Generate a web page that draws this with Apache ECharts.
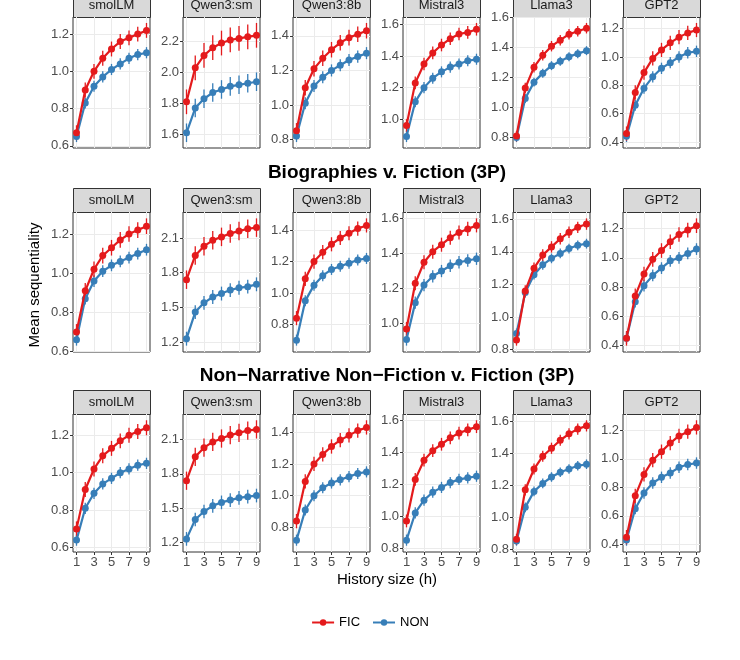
<!DOCTYPE html>
<html>
<head>
<meta charset="utf-8">
<script src="https://cdn.jsdelivr.net/npm/echarts@6/dist/echarts.min.js"></script>
<style>html,body{margin:0;padding:0;background:#fff}#chart{width:740px;height:660px}</style>
</head>
<body>
<div id="chart"></div>
<script>
var models = ['smolLM', 'Qwen3:sm', 'Qwen3:8b', 'Mistral3', 'Llama3', 'GPT2'];
var rowTitles = ['', 'Biographies v. Fiction (3P)', 'Non\u2212Narrative Non\u2212Fiction v. Fiction (3P)'];
var hist = [1, 2, 3, 4, 5, 6, 7, 8, 9];

// FIC / NON means, row by row, model by model
var ficRow1 = [
  [0.67,0.90,1.00,1.07,1.12,1.16,1.18,1.20,1.22],
  [1.81,2.03,2.11,2.16,2.19,2.21,2.22,2.23,2.24],
  [0.85,1.10,1.21,1.27,1.32,1.36,1.39,1.41,1.43],
  [0.96,1.23,1.35,1.42,1.47,1.51,1.54,1.55,1.57],
  [0.81,1.13,1.27,1.35,1.41,1.45,1.49,1.51,1.53],
  [0.46,0.75,0.89,0.99,1.05,1.10,1.14,1.17,1.19]
];
var nonRow1 = [
  [0.65,0.83,0.92,0.97,1.01,1.04,1.07,1.09,1.10],
  [1.61,1.77,1.83,1.87,1.89,1.91,1.92,1.93,1.94],
  [0.82,1.01,1.11,1.16,1.20,1.23,1.26,1.28,1.30],
  [0.89,1.11,1.20,1.26,1.30,1.33,1.35,1.37,1.38],
  [0.80,1.06,1.17,1.23,1.28,1.31,1.34,1.36,1.38],
  [0.44,0.66,0.78,0.86,0.92,0.96,1.00,1.03,1.04]
];
var ficRow2 = [
  [0.70,0.91,1.02,1.09,1.13,1.17,1.20,1.22,1.24],
  [1.74,1.95,2.03,2.08,2.11,2.14,2.16,2.18,2.19],
  [0.84,1.09,1.20,1.26,1.31,1.35,1.38,1.41,1.43],
  [0.97,1.23,1.35,1.41,1.45,1.49,1.52,1.54,1.56],
  [0.86,1.16,1.30,1.38,1.43,1.48,1.52,1.55,1.57],
  [0.45,0.74,0.89,0.99,1.05,1.11,1.16,1.19,1.22]
];
var nonRow2 = [
  [0.66,0.87,0.96,1.01,1.04,1.06,1.08,1.10,1.12],
  [1.23,1.46,1.54,1.59,1.62,1.65,1.67,1.68,1.70],
  [0.70,0.95,1.05,1.11,1.15,1.17,1.19,1.21,1.22],
  [0.91,1.12,1.22,1.27,1.30,1.33,1.35,1.36,1.37],
  [0.90,1.15,1.26,1.32,1.36,1.39,1.42,1.44,1.45],
  [0.45,0.70,0.81,0.88,0.93,0.98,1.00,1.03,1.06]
];
var ficRow3 = [
  [0.70,0.91,1.02,1.09,1.13,1.17,1.20,1.22,1.24],
  [1.74,1.95,2.03,2.08,2.11,2.14,2.16,2.18,2.19],
  [0.84,1.09,1.20,1.26,1.31,1.35,1.38,1.41,1.43],
  [0.97,1.23,1.35,1.41,1.45,1.49,1.52,1.54,1.56],
  [0.86,1.17,1.30,1.38,1.43,1.48,1.52,1.55,1.57],
  [0.45,0.74,0.89,0.99,1.05,1.11,1.16,1.19,1.22]
];
var nonRow3 = [
  [0.64,0.81,0.89,0.94,0.97,1.00,1.02,1.04,1.05],
  [1.23,1.40,1.47,1.52,1.55,1.57,1.59,1.60,1.61],
  [0.72,0.91,1.00,1.05,1.08,1.10,1.12,1.14,1.15],
  [0.85,1.02,1.10,1.15,1.18,1.21,1.23,1.24,1.25],
  [0.85,1.06,1.16,1.21,1.25,1.28,1.30,1.32,1.33],
  [0.43,0.65,0.76,0.83,0.87,0.90,0.94,0.96,0.97]
];
// approximate error bar half-widths per model (FIC, NON)
var errFic = [0.04, 0.08, 0.045, 0.04, 0.035, 0.05];
var errNon = [0.03, 0.06, 0.035, 0.035, 0.03, 0.04];

var yTicks = [
  [[0.6,0.8,1.0,1.2],[1.6,1.8,2.0,2.2],[0.8,1.0,1.2,1.4],[1.0,1.2,1.4,1.6],[0.8,1.0,1.2,1.4,1.6],[0.4,0.6,0.8,1.0,1.2]],
  [[0.6,0.8,1.0,1.2],[1.2,1.5,1.8,2.1],[0.8,1.0,1.2,1.4],[1.0,1.2,1.4,1.6],[0.8,1.0,1.2,1.4,1.6],[0.4,0.6,0.8,1.0,1.2]],
  [[0.6,0.8,1.0,1.2],[1.2,1.5,1.8,2.1],[0.8,1.0,1.2,1.4],[0.8,1.0,1.2,1.4,1.6],[0.8,1.0,1.2,1.4,1.6],[0.4,0.6,0.8,1.0,1.2]]
];
var xTicks = [1, 3, 5, 7, 9];

var ficRows = [ficRow1, ficRow2, ficRow3];
var nonRows = [nonRow1, nonRow2, nonRow3];

var panelLeft = [73, 183, 293, 403, 513, 623];
var panelW = 77;
var rowTop = [17, 212, 414];
var rowH = [131, 140, 138];
var RED = '#E41A1C', BLUE = '#377EB8';

var grids = [], xAxes = [], yAxes = [], series = [], graphics = [];

function errRender(color) {
  return function (params, api) {
    var x = api.value(0);
    var p1 = api.coord([x, api.value(1)]);
    var p2 = api.coord([x, api.value(2)]);
    return { type: 'line', shape: { x1: p1[0], y1: p1[1], x2: p2[0], y2: p2[1] },
      style: { stroke: color, lineWidth: 1.3 } };
  };
}

for (var r = 0; r < 3; r++) {
  for (var m = 0; m < 6; m++) {
    var idx = r * 6 + m;
    var fic = ficRows[r][m], non = nonRows[r][m];
    var lo = Math.min(Math.min.apply(null, fic) - errFic[m], Math.min.apply(null, non) - errNon[m]);
    var hi = Math.max(Math.max.apply(null, fic) + errFic[m], Math.max.apply(null, non) + errNon[m]);
    var pad = (hi - lo) * 0.05;
    grids.push({ left: panelLeft[m], top: rowTop[r], width: panelW, height: rowH[r],
      show: true, borderColor: '#333', borderWidth: 1, backgroundColor: '#fff' });
    xAxes.push({ type: 'value', gridIndex: idx, min: 0.6, max: 9.4,
      axisLine: { show: false },
      axisTick: { show: r === 2, customValues: xTicks, length: 3, lineStyle: { color: '#333' } },
      axisLabel: { show: r === 2, customValues: xTicks, color: '#4D4D4D', fontSize: 13, margin: 4,
        fontFamily: 'Liberation Sans' },
      splitLine: { show: true, lineStyle: { color: '#EBEBEB', width: 1 } } });
    yAxes.push({ type: 'value', gridIndex: idx, min: lo - pad, max: hi + pad,
      axisLine: { show: false },
      axisTick: { show: true, customValues: yTicks[r][m], length: 3, lineStyle: { color: '#333' } },
      axisLabel: { customValues: yTicks[r][m], color: '#4D4D4D', fontSize: 13, margin: 4,
        fontFamily: 'Liberation Sans', formatter: function (v) { return v.toFixed(1); } },
      splitLine: { show: true, lineStyle: { color: '#EBEBEB', width: 1 } } });

    var ficErr = [], nonErr = [], ficPts = [], nonPts = [];
    for (var i = 0; i < hist.length; i++) {
      ficPts.push([hist[i], fic[i]]);
      nonPts.push([hist[i], non[i]]);
      ficErr.push([hist[i], fic[i] - errFic[m], fic[i] + errFic[m]]);
      nonErr.push([hist[i], non[i] - errNon[m], non[i] + errNon[m]]);
    }
    series.push({ type: 'custom', xAxisIndex: idx, yAxisIndex: idx, renderItem: errRender(BLUE), data: nonErr, silent: true, z: 2 });
    series.push({ type: 'custom', xAxisIndex: idx, yAxisIndex: idx, renderItem: errRender(RED), data: ficErr, silent: true, z: 2 });
    series.push({ name: 'NON', type: 'line', xAxisIndex: idx, yAxisIndex: idx, data: nonPts,
      symbol: 'circle', symbolSize: 7, color: BLUE, lineStyle: { width: 2.2 }, z: 3, animation: false });
    series.push({ name: 'FIC', type: 'line', xAxisIndex: idx, yAxisIndex: idx, data: ficPts,
      symbol: 'circle', symbolSize: 7, color: RED, lineStyle: { width: 2.2 }, z: 4, animation: false });

    graphics.push({ type: 'rect', left: panelLeft[m], top: rowTop[r] - 24,
      shape: { width: panelW, height: 24 },
      style: { fill: '#D9D9D9', stroke: '#333', lineWidth: 1 } });
    graphics.push({ type: 'text', x: panelLeft[m] + panelW / 2, y: rowTop[r] - 12,
      style: { text: models[m], fill: '#1A1A1A', font: '13px "Liberation Sans"', align: 'center', verticalAlign: 'middle' } });
  }
}

graphics.push({ type: 'text', x: 387, y: 173, style: { text: rowTitles[1], fill: '#000',
  font: 'bold 19px "Liberation Sans"', align: 'center', verticalAlign: 'middle' } });
graphics.push({ type: 'text', x: 387, y: 376, style: { text: rowTitles[2], fill: '#000',
  font: 'bold 19px "Liberation Sans"', align: 'center', verticalAlign: 'middle' } });
graphics.push({ type: 'text', x: 387, y: 580, style: { text: 'History size (h)', fill: '#000',
  font: '15px "Liberation Sans"', align: 'center', verticalAlign: 'middle' } });
graphics.push({ type: 'text', x: 35, y: 285, rotation: Math.PI / 2, style: { text: 'Mean sequentiality', fill: '#000',
  font: '15px "Liberation Sans"', align: 'center', verticalAlign: 'middle' } });

var option = {
  animation: false,
  grid: grids,
  xAxis: xAxes,
  yAxis: yAxes,
  series: series,
  graphic: graphics,
  legend: { data: ['FIC', 'NON'], left: 'center', top: 611, itemWidth: 22, itemHeight: 8, itemGap: 12,
    textStyle: { fontFamily: 'Liberation Sans', fontSize: 13, color: '#000' } }
};

var myChart = echarts.init(document.getElementById('chart'));
myChart.setOption(option, true);
</script>
</body>
</html>
